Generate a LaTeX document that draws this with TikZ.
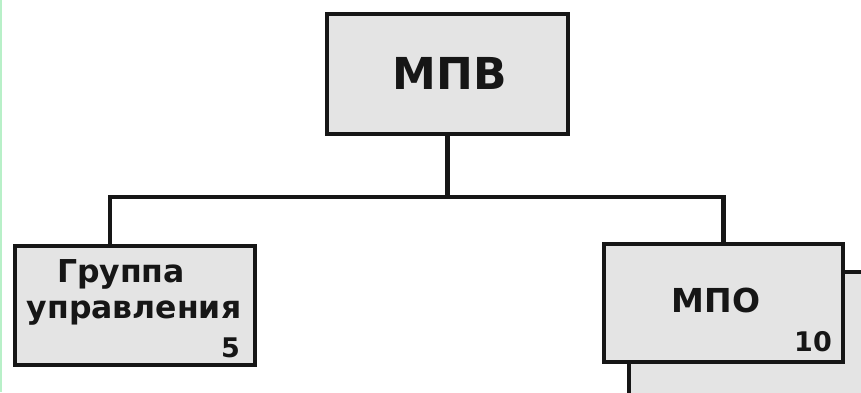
\documentclass[tikz,border=0pt]{standalone}
\usepackage{fontspec}
\setmainfont{DejaVu Sans}
\definecolor{boxfill}{HTML}{E4E4E4}
\definecolor{linec}{HTML}{161616}
\definecolor{stripc}{HTML}{B8F0C8}
\begin{document}
\begin{tikzpicture}[x=1pt,y=-1pt,
  unit/.style={draw=linec,fill=boxfill,line width=4.5pt,outer sep=0pt,inner sep=0pt},
  conn/.style={draw=linec,line width=4.5pt},
  lbl/.style={font=\bfseries,text=linec,inner sep=0pt}]
\useasboundingbox (0,0) rectangle (861,392);
\clip (0,0) rectangle (861,392);
\fill[white] (0,0) rectangle (861,392);
\fill[stripc] (0,0) rectangle (2,392);
% boxes
\node[unit,minimum width=241pt,minimum height=120pt] (mpv) at (447.5,74) {};
\node[unit,minimum width=240pt,minimum height=119pt] (grp) at (135,305.5) {};
\node[unit,minimum width=239pt,minimum height=140pt] (shadow) at (748.5,342) {};
\node[unit,minimum width=239pt,minimum height=118pt] (mpo) at (723.5,303) {};
% labels
\node[lbl,font=\bfseries\fontsize{44}{44}\selectfont] (tmpv) at (450,73) {МПВ};
\node[lbl,font=\bfseries\fontsize{33}{33}\selectfont] (tmpo) at (716,300) {МПО};
\node[lbl,font=\bfseries\fontsize{27}{27}\selectfont,anchor=base east] (tten) at (832,351) {10};
\node[lbl,font=\bfseries\fontsize{31.5}{31.5}\selectfont,anchor=base] (tg1) at (121,282) {Группа};
\node[lbl,font=\bfseries\fontsize{31.5}{31.5}\selectfont,anchor=base] (tg2) at (134,318) {управления};
\node[lbl,font=\bfseries\fontsize{27}{27}\selectfont,anchor=base east] (tfive) at (240,357) {5};
% connectors
\coordinate (j) at (447.5,197);
\draw[conn] (mpv.south) -- (j);
\draw[conn] ([xshift=-25pt]grp.north) |- (j) -| (mpo.north);
\end{tikzpicture}
\end{document}
